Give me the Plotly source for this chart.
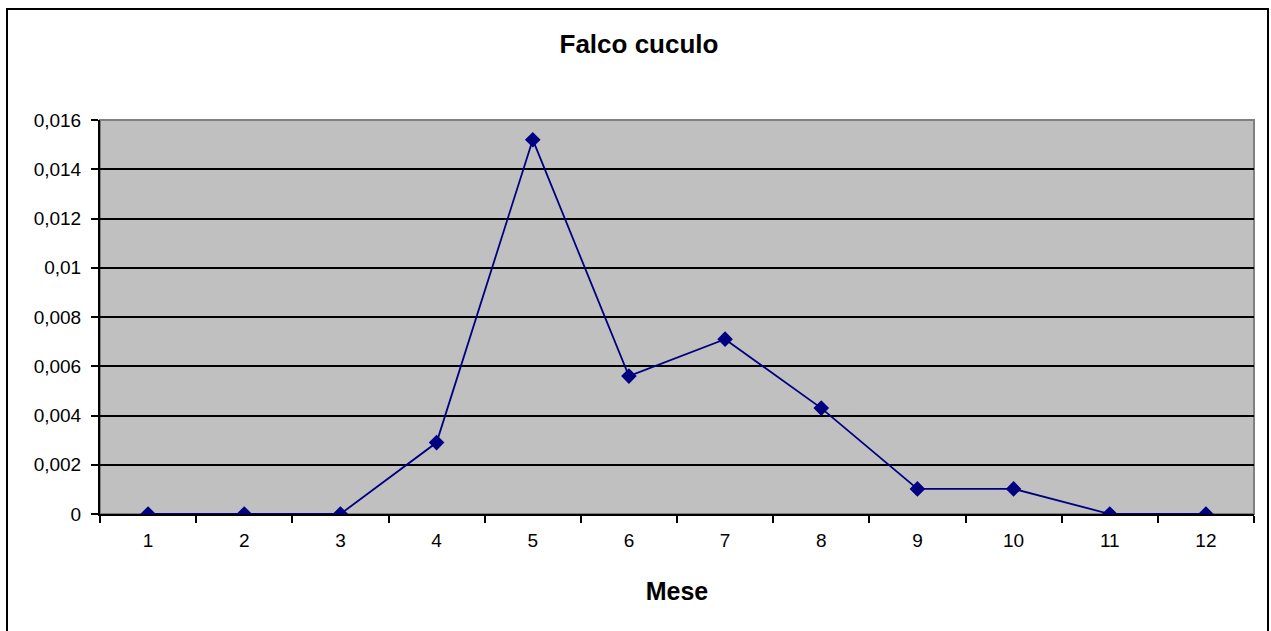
import plotly.graph_objects as go

months = ["1", "2", "3", "4", "5", "6", "7", "8", "9", "10", "11", "12"]
values = [0, 0, 0, 0.0029, 0.0152, 0.0056, 0.0071, 0.0043, 0.00102, 0.00102, 0, 0]
y_tickvals = [0, 0.002, 0.004, 0.006, 0.008, 0.01, 0.012, 0.014, 0.016]
y_ticktext = ["0", "0,002", "0,004", "0,006", "0,008", "0,01", "0,012", "0,014", "0,016"]

W, H = 1271, 631
ml, mr, mt, mb = 100, 17, 120, 117
pw, ph = W - ml - mr, H - mt - mb

def px_x(x):
    return (x - ml) / pw

def px_y(y):
    return (H - mb - y) / ph

fig = go.Figure()
fig.add_trace(go.Scatter(
    x=months, y=values, mode="lines+markers",
    line=dict(color="#000080", width=1.8),
    marker=dict(symbol="diamond", size=12, color="#000080"),
    showlegend=False,
))

fig.update_layout(
    width=W, height=H,
    margin=dict(l=ml, r=mr, t=mt, b=mb, autoexpand=False),
    paper_bgcolor="white",
    plot_bgcolor="#C0C0C0",
    font=dict(family="Liberation Sans, Arial", size=19, color="black"),
    title=dict(text="<b>Falco cuculo</b>", x=px_x(639), xref="paper", xanchor="center",
               y=1 - 44 / H, yanchor="middle", font=dict(size=26)),
    xaxis=dict(
        type="category", tickson="boundaries", ticks="outside", ticklen=7,
        tickcolor="black", tickwidth=1.5, showgrid=False, showline=True, linecolor="black",
        linewidth=2, title=dict(text="<b>Mese</b>", standoff=33, font=dict(size=25)),
        range=[-0.5, 11.5], zeroline=False, ticklabelstandoff=8, automargin=False,
    ),
    yaxis=dict(
        range=[0, 0.016], tickvals=y_tickvals, ticktext=y_ticktext,
        ticks="outside", ticklen=7, tickcolor="black", tickwidth=1.5, showgrid=True,
        gridcolor="black", gridwidth=2, showline=True, linecolor="black",
        linewidth=2, zeroline=False, ticklabelstandoff=6, automargin=False,
    ),
    shapes=[
        dict(type="rect", xref="paper", yref="paper", x0=0, x1=1, y0=0, y1=1,
             line=dict(color="#808080", width=2), layer="below"),
        dict(type="rect", xref="paper", yref="paper",
             x0=px_x(7), x1=px_x(1268), y0=px_y(640), y1=px_y(9),
             line=dict(color="black", width=2)),
    ],
)

fig.write_html("out.html", config={"displayModeBar": False},
               post_script="document.body.style.margin='0';")
